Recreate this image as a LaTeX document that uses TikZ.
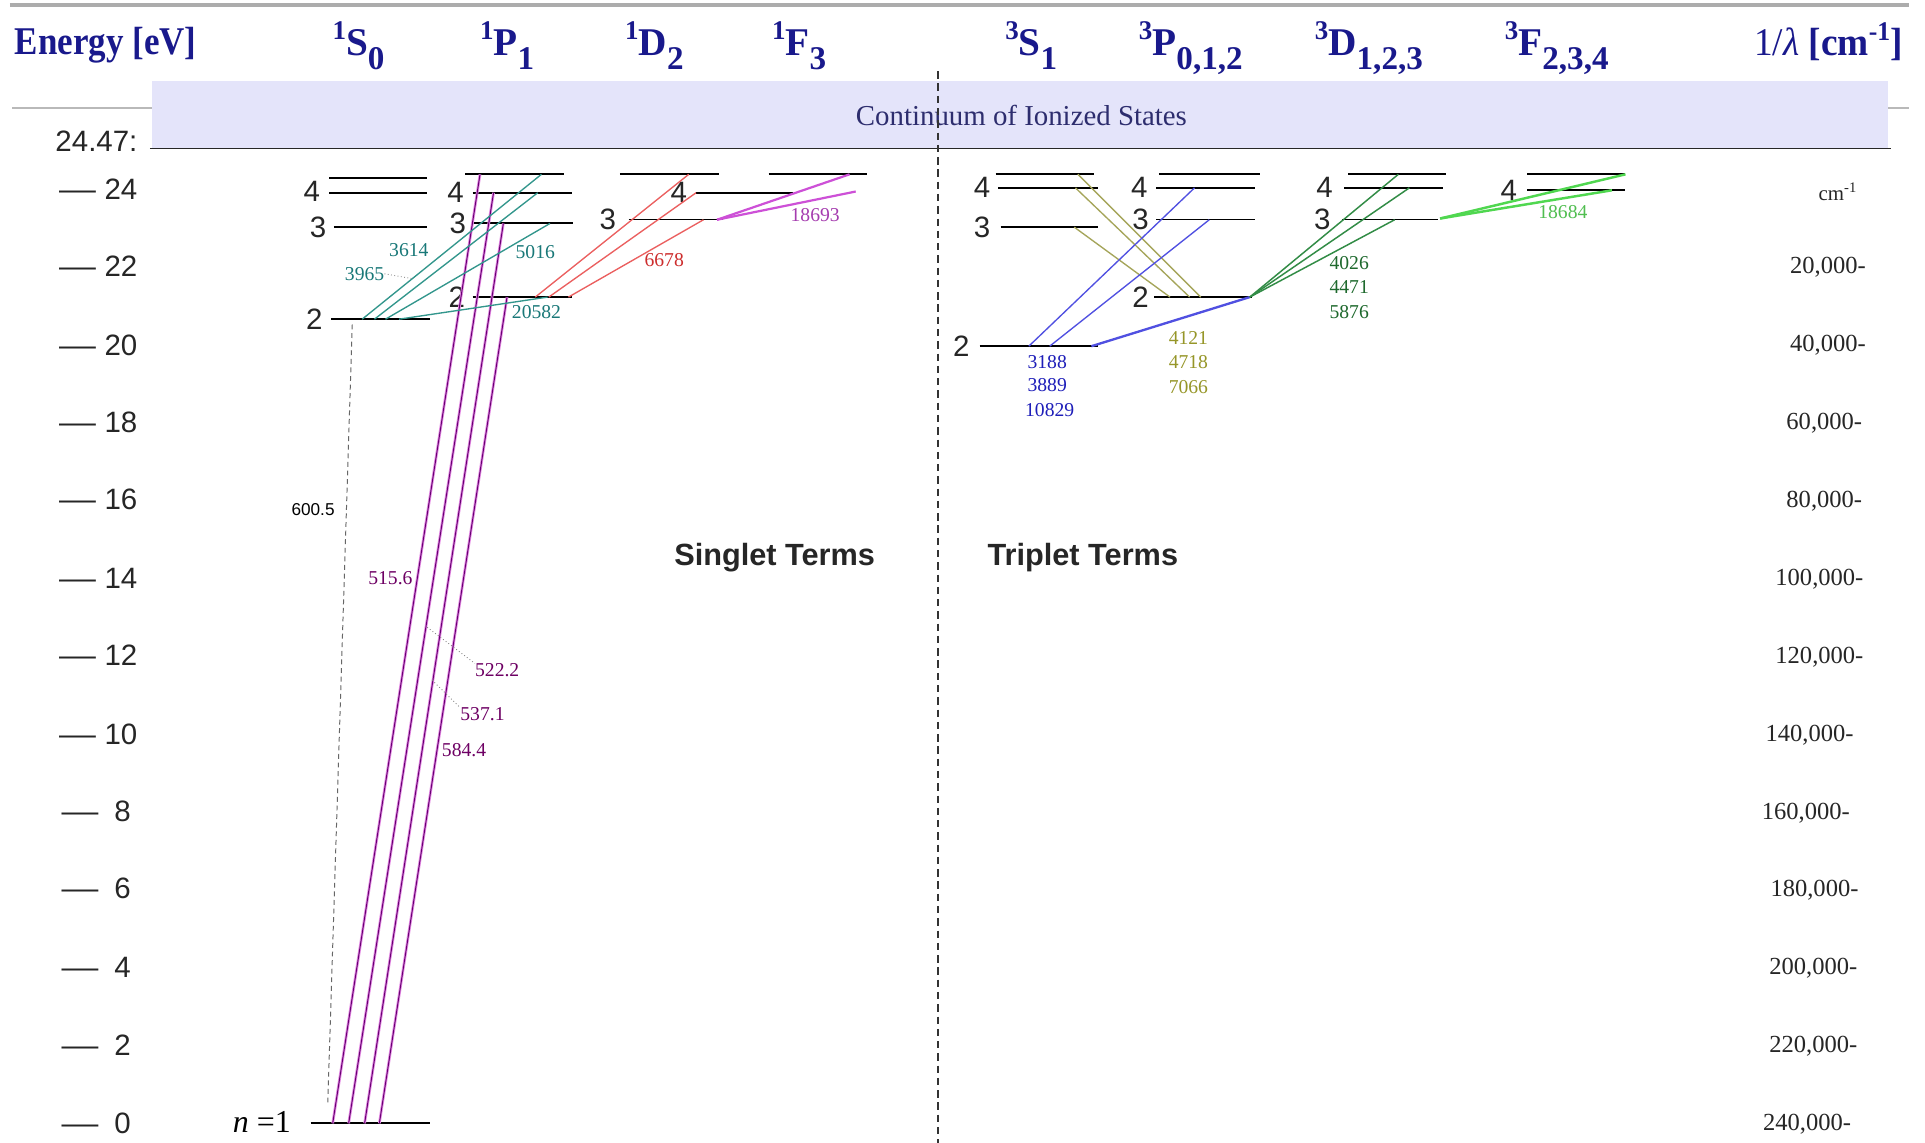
\documentclass[tikz,border=0pt]{standalone}
\usepackage{fontspec}
\setmainfont{Liberation Serif}
\newfontfamily\sansf{Liberation Sans}
\usepackage{graphicx}
\definecolor{navy}{RGB}{25,25,140}
\definecolor{navyt}{RGB}{45,45,110}
\definecolor{lav}{RGB}{228,228,250}
\definecolor{tealc}{RGB}{50,150,140}
\definecolor{tealt}{RGB}{25,120,120}
\definecolor{redc}{RGB}{235,95,95}
\definecolor{redt}{RGB}{205,45,45}
\definecolor{magc}{RGB}{205,80,215}
\definecolor{magt}{RGB}{165,60,175}
\definecolor{purpc}{RGB}{105,0,115}
\definecolor{purpg}{RGB}{228,140,228}
\definecolor{purpt}{RGB}{110,0,100}
\definecolor{olivec}{RGB}{165,165,90}
\definecolor{olivet}{RGB}{150,150,40}
\definecolor{bluec}{RGB}{80,80,225}
\definecolor{bluet}{RGB}{30,30,185}
\definecolor{dgreenc}{RGB}{50,140,70}
\definecolor{dgreent}{RGB}{30,105,45}
\definecolor{lgreenc}{RGB}{80,215,80}
\definecolor{lgreent}{RGB}{80,190,80}
\newcommand\trm[3]{\raisebox{13pt}{\fontsize{22}{22}\selectfont #1}#2\raisebox{-12pt}{\fontsize{27}{27}\selectfont #3}}
\begin{document}
\begin{tikzpicture}[x=1pt,y=-1pt,
  hdr/.style={font=\fontsize{32}{34}\selectfont\bfseries, text=navy, inner sep=0pt, anchor=base},
  lvl/.style={line width=1.7pt, black},
  thinlvl/.style={line width=1pt, black},
  num/.style={font=\sansf\fontsize{24}{24}\selectfont, inner sep=0pt, text=black!85},
  tick/.style={font=\sansf\fontsize{24}{24}\selectfont, anchor=west, inner sep=0pt, text=black!85},
  wl/.style={font=\fontsize{16}{16}\selectfont, inner sep=0pt},
  cml/.style={font=\fontsize{20}{20}\selectfont, anchor=east, inner sep=0pt, text=black!85},
  tealtr/.style={draw=tealc, line width=1.1pt},
  redtr/.style={draw=redc, line width=1.1pt},
  magtr/.style={draw=magc, line width=1.8pt},
  purptr/.style={draw=purpc, line width=0.8pt, preaction={draw=purpg, line width=2.2pt}},
  olivetr/.style={draw=olivec, line width=1.1pt},
  bluetr/.style={draw=bluec, line width=1.1pt},
  bluethick/.style={draw=bluec, line width=1.9pt},
  dgreentr/.style={draw=dgreenc, line width=1.2pt},
  lgreentr/.style={draw=lgreenc, line width=2pt},
  leader/.style={draw=gray, dotted, line width=0.7pt},
  terms/.style={font=\sansf\bfseries\fontsize{25}{25}\selectfont, inner sep=0pt, text=black!85}
]
\useasboundingbox (0,0) rectangle (1568,931);
\fill[white] (0,0) rectangle (1568,931);

% top border
\draw[gray!65, line width=3pt] (8,4) -- (1555,4);

% headers
\node[hdr, anchor=base west] (heng) at (12,44) {\scalebox{0.89}[1]{Energy [eV]}};
\node[hdr] (h1s) at (292,45) {\trm{1}{S}{0}};
\node[hdr] (h1p) at (413,45) {\trm{1}{P}{1}};
\node[hdr] (h1d) at (533,45) {\trm{1}{D}{2}};
\node[hdr] (h1f) at (651,45) {\trm{1}{F}{3}};
\node[hdr] (h3s) at (840,45) {\trm{3}{S}{1}};
\node[hdr] (h3p) at (970,45) {\trm{3}{P}{0,1,2}};
\node[hdr] (h3d) at (1115,45) {\trm{3}{D}{1,2,3}};
\node[hdr] (h3f) at (1268,45) {\trm{3}{F}{2,3,4}};
\node[hdr, anchor=base east] (hlam) at (1550,45) {\scalebox{0.95}[1]{\mdseries 1/\textit{λ} \bfseries [cm\raisebox{12pt}{\fontsize{22}{22}\selectfont -1}]}};

% continuum
\draw[gray!55, line width=1pt] (10,88) -- (1555,88);
\fill[lav] (124,66) rectangle (1538,121);
\node[font=\fontsize{23.5}{23.5}\selectfont, text=navyt, inner sep=0pt] (cont) at (832,94) {Continuum of Ionized States};
\draw[black!85, line width=1.5pt] (122,121) -- (1540,121);
\node[num, anchor=west] (ion) at (45,115) {24.47:};

% dashed separator
\draw[black!80, line width=1pt, dash pattern=on 6pt off 4pt] (764,58) -- (764,931);

% left energy axis
\foreach \e/\y in {24/154,22/217,20/281,18/344,16/407,14/471,12/534,10/598}
  \node[tick] (tk\e) at (48,\y) {\scalebox{1.25}[1]{—}\hspace{7pt}\e};
\foreach \e/\y in {8/661,6/724,4/788,2/851,0/915}
  \node[tick] (tk\e) at (50,\y) {\scalebox{1.25}[1]{—}\hspace{13pt}\e};

% right wavenumber axis
\node[font=\fontsize{17}{17}\selectfont, inner sep=0pt, text=black!85] (cmu) at (1497,156) {cm\textsuperscript{-1}};
\foreach \k/\x/\y in {20/1520/218,40/1520/281,60/1517/345,80/1517/408,100/1518/472,120/1518/535,140/1510/599,160/1507/662,180/1514/725,200/1513/789,220/1513/852,240/1508/916}
  \node[cml] (r\k) at (\x,\y) {\k,000-};

% ---------- singlet levels ----------
\draw[lvl] (253,915) -- (350,915);
\node[font=\fontsize{26}{26}\selectfont, anchor=east, inner sep=0pt] (nlab) at (237,914) {\textit{n} =1};
\draw[lvl] (270,260) -- (350,260); \node[num] (ls2) at (256,260) {2};
\draw[lvl] (272,185) -- (348,185); \node[num] (ls3) at (259,185) {3};
\draw[lvl] (268,157) -- (348,157); \node[num] (ls4) at (254,156) {4};
\draw[lvl] (268,145) -- (348,145);

\draw[lvl] (385,242) -- (466,242); \node[num] (lp2) at (372,242) {2};
\draw[lvl] (385,182) -- (467,182); \node[num] (lp3) at (373,182) {3};
\draw[lvl] (385,157) -- (466,157); \node[num] (lp4) at (371,157) {4};
\draw[lvl] (379,142) -- (459,142);

\draw[lvl] (505,142) -- (586,142);
\draw[thinlvl] (512,179) -- (589,179); \node[num] (ld3) at (495,179) {3};
\draw[lvl] (567,157) -- (646,157); \node[num] (lf4) at (553,157) {4};
\draw[lvl] (626,142) -- (706,142);

% ---------- triplet levels ----------
\draw[lvl] (798,282) -- (894,282); \node[num] (lt2) at (783,282) {2};
\draw[lvl] (815,185) -- (894,185); \node[num] (lt3) at (800,185) {3};
\draw[lvl] (813,153) -- (894,153); \node[num] (lt4) at (800,153) {4};
\draw[lvl] (811,142) -- (891,142);

\draw[lvl] (940,242) -- (1020,242); \node[num] (lq2) at (929,242) {2};
\draw[thinlvl] (942,179) -- (1022,179); \node[num] (lq3) at (929,179) {3};
\draw[lvl] (942,153) -- (1022,153); \node[num] (lq4) at (928,153) {4};
\draw[lvl] (944,142) -- (1026,142);

\draw[thinlvl] (1093,179) -- (1171,179); \node[num] (le3) at (1077,179) {3};
\draw[lvl] (1095,153) -- (1175,153); \node[num] (le4) at (1079,153) {4};
\draw[lvl] (1098,142) -- (1178,142);

\draw[lvl] (1244,155) -- (1324,155); \node[num] (lg4) at (1229,155) {4};
\draw[lvl] (1244,142) -- (1324,142);

% ---------- endpoint coordinates ----------
\coordinate (n1a) at (271,915); \coordinate (n1b) at (284,915);
\coordinate (n1c) at (297,915); \coordinate (n1d) at (309,915);
\coordinate (p5a) at (391,142); \coordinate (p4a) at (402,157);
\coordinate (p3a) at (410,182); \coordinate (p2a) at (413,242);
\coordinate (d600a) at (267,898); \coordinate (d600b) at (287,262);

\coordinate (s2a) at (295,260); \coordinate (s2b) at (305,260);
\coordinate (s2c) at (314,260); \coordinate (s2d) at (325,260);
\coordinate (p5b) at (441,142); \coordinate (p4b) at (438,157);
\coordinate (p3b) at (448,182); \coordinate (p2b) at (446,242);

\coordinate (p2c) at (436,242); \coordinate (p2d) at (447,242); \coordinate (p2e) at (463,242);
\coordinate (dta) at (561,142); \coordinate (f4a) at (567,157); \coordinate (d3a) at (573,179);

\coordinate (d3b) at (584,179); \coordinate (ftb) at (692,142); \coordinate (f4b) at (697,156);

\coordinate (t5a) at (878,142); \coordinate (t4a) at (876,153); \coordinate (t3a) at (875,185);
\coordinate (q2a) at (978,242); \coordinate (q2b) at (969,242); \coordinate (q2c) at (953,242);

\coordinate (t2a) at (838,282); \coordinate (t2b) at (855,282); \coordinate (t2c) at (889,282);
\coordinate (q4a) at (973,153); \coordinate (q3a) at (985,179); \coordinate (q2d) at (1018,242);

\coordinate (e5a) at (1139,142); \coordinate (e4a) at (1148,153); \coordinate (e3a) at (1136,179);
\coordinate (e3b) at (1173,178); \coordinate (g5a) at (1324,142); \coordinate (g4a) at (1313,155);

% ---------- transitions ----------
\draw[gray!80!black, line width=0.8pt, dash pattern=on 4pt off 3pt] (d600a) -- (d600b);
\draw[purptr] (n1a) -- (p5a);
\draw[purptr] (n1b) -- (p4a);
\draw[purptr] (n1c) -- (p3a);
\draw[purptr] (n1d) -- (p2a);

\draw[tealtr] (s2a) -- (p5b);
\draw[tealtr] (s2b) -- (p4b);
\draw[tealtr] (s2c) -- (p3b);
\draw[tealtr] (s2d) -- (p2b);

\draw[redtr] (p2c) -- (dta);
\draw[redtr] (p2d) -- (f4a);
\draw[redtr] (p2e) -- (d3a);

\draw[magtr] (d3b) -- (ftb);
\draw[magtr] (d3b) -- (f4b);

\draw[olivetr] (t5a) -- (q2a);
\draw[olivetr] (t4a) -- (q2b);
\draw[olivetr] (t3a) -- (q2c);

\draw[bluetr] (t2a) -- (q4a);
\draw[bluetr] (t2b) -- (q3a);
\draw[bluethick] (q2d) -- (t2c);

\draw[dgreentr] (q2d) -- (e5a);
\draw[dgreentr] (q2d) -- (e4a);
\draw[dgreentr] (q2d) -- (e3a);

\draw[lgreentr] (e3b) -- (g5a);
\draw[lgreentr] (e3b) -- (g4a);

% ---------- wavelength labels ----------
\node[wl, text=tealt] (w3614) at (333,204) {3614};
\node[wl, text=tealt] (w3965) at (297,223) {3965};
\coordinate (c3965) at (336,227);
\draw[leader] (w3965.east) -- (c3965);
\node[wl, text=tealt] (w5016) at (436,205) {5016};
\node[wl, text=tealt] (w20582) at (437,254) {20582};
\node[wl, text=redt] (w6678) at (541,212) {6678};
\node[wl, text=magt] (w18693) at (664,175) {18693};

\node[font=\sansf\fontsize{14}{14}\selectfont, inner sep=0pt] (w600) at (255,415) {600.5};
\node[wl, text=purpt] (w515) at (318,471) {515.6};
\node[wl, text=purpt] (w522) at (405,546) {522.2};
\coordinate (c522) at (348,511);
\draw[leader] (c522) -- (w522.north west);
\node[wl, text=purpt] (w537) at (393,582) {537.1};
\coordinate (c537) at (352,554);
\draw[leader] (c537) -- (w537.north west);
\node[wl, text=purpt] (w584) at (378,611) {584.4};

\node[wl, text=bluet] (w3188) at (853,295) {3188};
\node[wl, text=bluet] (w3889) at (853,314) {3889};
\node[wl, text=bluet] (w10829) at (855,334) {10829};
\node[wl, text=olivet] (w4121) at (968,275) {4121};
\node[wl, text=olivet] (w4718) at (968,295) {4718};
\node[wl, text=olivet] (w7066) at (968,315) {7066};
\node[wl, text=dgreent] (w4026) at (1099,214) {4026};
\node[wl, text=dgreent] (w4471) at (1099,234) {4471};
\node[wl, text=dgreent] (w5876) at (1099,254) {5876};
\node[wl, text=lgreent] (w18684) at (1273,173) {18684};

% ---------- section titles ----------
\node[terms] (sing) at (631,454) {Singlet Terms};
\node[terms] (trip) at (882,454) {Triplet Terms};
\end{tikzpicture}
\end{document}
